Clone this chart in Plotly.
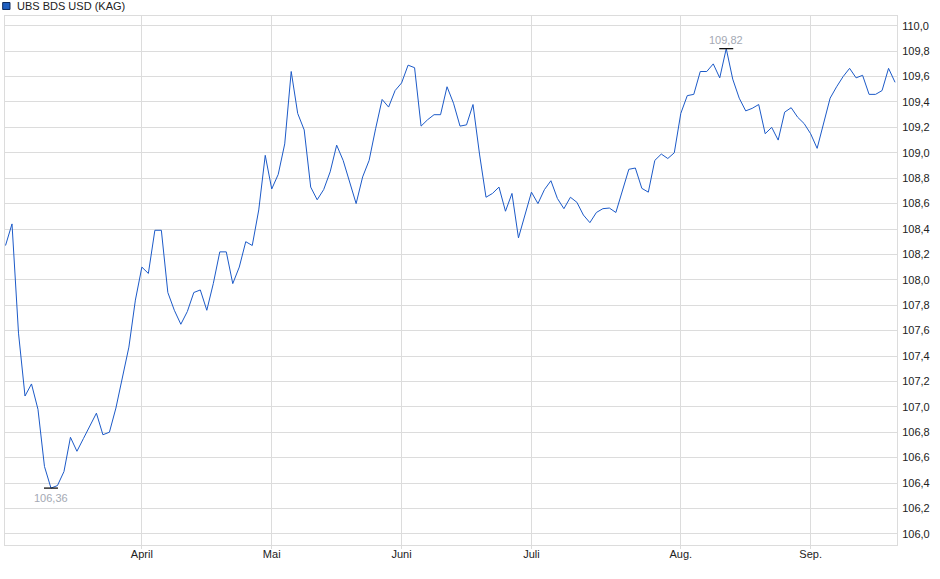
import plotly.graph_objects as go

series_name = "UBS BDS USD (KAG)"

# Month names of the periods covered and the number of price points in each
month_labels = ["März", "April", "Mai", "Juni", "Juli", "Aug.", "Sep."]
points_per_month = [21, 20, 20, 20, 23, 20, 14]

prices = [
    108.27, 108.44, 107.58, 107.085, 107.18, 106.98, 106.53, 106.36, 106.38, 106.49,
    106.76, 106.65, 106.75, 106.85, 106.95, 106.78, 106.80, 106.99, 107.24, 107.47,
    107.84,
    108.10, 108.05, 108.39, 108.39, 107.90, 107.76, 107.65, 107.75, 107.90, 107.92,
    107.76, 107.97, 108.22, 108.22, 107.97, 108.10, 108.30, 108.27, 108.55, 108.98,
    108.715, 108.83, 109.07, 109.64, 109.31, 109.18, 108.73, 108.63, 108.71, 108.85,
    109.06, 108.94, 108.76, 108.60, 108.81, 108.94, 109.19, 109.42, 109.36, 109.49,
    109.55, 109.69, 109.67, 109.21, 109.26, 109.30, 109.30, 109.52, 109.39, 109.21,
    109.22, 109.38, 108.99, 108.65, 108.68, 108.73, 108.54, 108.68, 108.33, 108.52,
    108.69, 108.60, 108.71, 108.78, 108.64, 108.56, 108.65, 108.61, 108.51, 108.45,
    108.53, 108.56, 108.565, 108.53, 108.71, 108.87, 108.88, 108.72, 108.69, 108.94,
    108.99, 108.955, 109.00,
    109.31, 109.45, 109.46, 109.64, 109.64, 109.70, 109.59, 109.82, 109.58, 109.43,
    109.33, 109.35, 109.38, 109.15, 109.20, 109.10, 109.32, 109.355, 109.28, 109.23,
    109.15, 109.035, 109.23, 109.43, 109.52, 109.60, 109.665, 109.59, 109.61, 109.46,
    109.46, 109.49, 109.665, 109.555,
]

x_idx = list(range(len(prices)))

# month start positions (index of first point of each month)
starts = []
acc = 0
for n in points_per_month:
    starts.append(acc)
    acc += n
tick_vals = starts[1:]
tick_text = month_labels[1:]

i_min = min(x_idx, key=lambda i: prices[i])
i_max = max(x_idx, key=lambda i: prices[i])

def fmt(v):
    return f"{v:.2f}".replace(".", ",")

line_color = "#1c5ac8"
grid_color = "#dcdcdc"
font_family = "Liberation Sans, Arial, sans-serif"

fig = go.Figure()
fig.add_trace(go.Scatter(
    x=x_idx, y=prices, mode="lines",
    line=dict(color=line_color, width=1),
    name=series_name, hoverinfo="skip",
))
fig.add_trace(go.Scatter(
    x=[i_min, i_max], y=[prices[i_min], prices[i_max]], mode="markers",
    marker=dict(symbol="line-ew", size=10, line=dict(color="#111111", width=1.3)),
    hoverinfo="skip",
))

fig.update_layout(
    width=940, height=579,
    margin=dict(l=5, r=43, t=16, b=34, autoexpand=False),
    plot_bgcolor="white", paper_bgcolor="white",
    separators=", ",
    showlegend=False,
    font=dict(family=font_family, size=11, color="#222222"),
    xaxis=dict(
        range=[-0.08, len(prices) - 1 + 0.3],
        tickmode="array", tickvals=tick_vals, ticktext=tick_text,
        showgrid=True, gridcolor=grid_color, gridwidth=1,
        ticks="outside", ticklen=3, tickcolor=grid_color,
        ticklabelstandoff=-4,
        showline=True, linecolor=grid_color, mirror=True,
        zeroline=False,
        tickfont=dict(size=11, color="#222222", family=font_family),
    ),
    yaxis=dict(
        side="right",
        range=[105.912, 110.077],
        tick0=106, dtick=0.2, tickformat=".1f",
        showgrid=True, gridcolor=grid_color, gridwidth=1,
        ticks="", showline=True, linecolor=grid_color, mirror=True,
        ticklabelstandoff=2,
        zeroline=False,
        tickfont=dict(size=11, color="#222222", family=font_family),
    ),
)

fig.add_annotation(
    x=i_min, y=prices[i_min], text=fmt(prices[i_min]), showarrow=False,
    yshift=-10, font=dict(size=11, color="#a4a9b4", family=font_family),
)
fig.add_annotation(
    x=i_max, y=prices[i_max], text=fmt(prices[i_max]), showarrow=False,
    yshift=9, font=dict(size=11, color="#a4a9b4", family=font_family),
)

# legend-like header
fig.add_shape(
    type="rect", xref="paper", yref="paper",
    x0=-0.0026, x1=0.0056, y0=1.0123, y1=1.0255,
    fillcolor="#1f5fc0", line=dict(color="#0d2a5c", width=1),
)
fig.add_annotation(
    xref="paper", yref="paper", x=0.0112, y=1.0189,
    xanchor="left", yanchor="middle", showarrow=False,
    text=series_name, font=dict(size=11, color="#222222", family=font_family),
)

fig.write_html(
    "out.html",
    config={"displayModeBar": False},
    post_script="document.body.style.margin='0';document.body.style.overflow='hidden';",
)
